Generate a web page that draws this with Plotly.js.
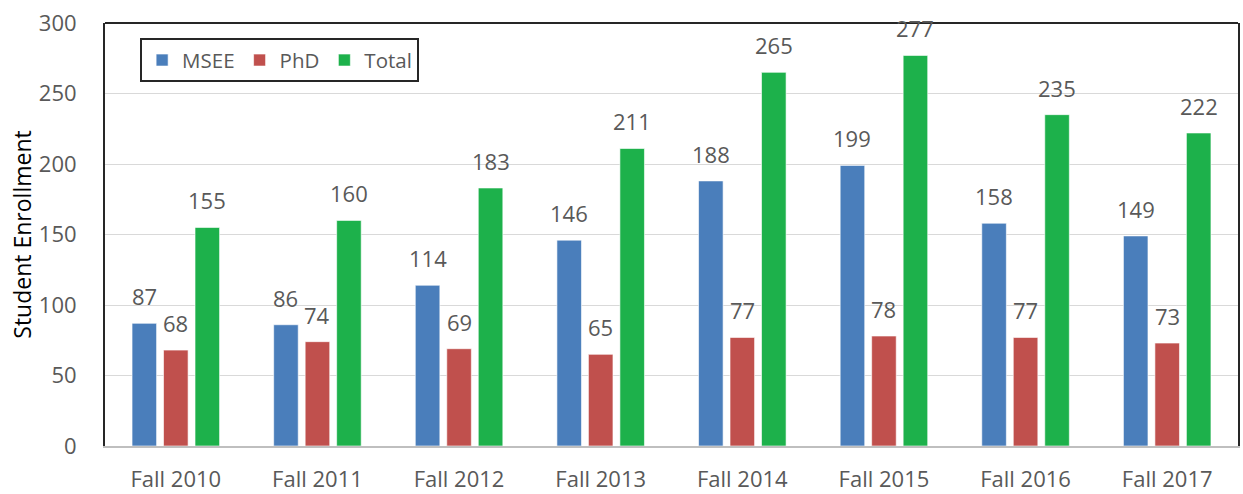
<!DOCTYPE html>
<html>
<head>
<meta charset="utf-8">
<script src="https://cdn.plot.ly/plotly-3.0.1.min.js"></script>
<style>html,body{margin:0;padding:0;background:#fff;}#chart{width:1243px;height:494px;}</style>
</head>
<body>
<div id="chart"></div>
<script>
const categories = ["Fall 2010","Fall 2011","Fall 2012","Fall 2013","Fall 2014","Fall 2015","Fall 2016","Fall 2017"];
const msee = [87, 86, 114, 146, 188, 199, 158, 149];
const phd = [68, 74, 69, 65, 77, 78, 77, 73];
const total = [155, 160, 183, 211, 265, 277, 235, 222];
const seriesNames = ["MSEE", "PhD", "Total"];
const seriesColors = ["#4a7ebb", "#c0504d", "#1db14b"];
const yTicks = [0, 50, 100, 150, 200, 250, 300];

const FONT = "Open Sans, Liberation Sans, sans-serif";
const FS = 22;
const BARGAP = 0.333;
const BARGROUPGAP = 0.22;
const seriesData = [msee, phd, total];

const traces = seriesData.map((vals, i) => ({
  type: "bar",
  name: seriesNames[i],
  x: categories,
  y: vals,
  marker: {color: seriesColors[i], line: {color: "rgba(255,255,255,0.6)", width: 1}},
  hoverinfo: "skip"
}));

const slot = (1 - BARGAP) / 3;
const annotations = [];
seriesData.forEach((vals, i) => {
  vals.forEach((v, j) => {
    annotations.push({
      x: j + (i - 1) * slot,
      y: v,
      xref: "x", yref: "y",
      text: String(v),
      showarrow: false,
      yanchor: "bottom",
      yshift: 10,
      font: {family: FONT, size: FS, color: "#595959"}
    });
  });
});

const layout = {
  width: 1243, height: 494,
  margin: {l: 105, r: 5, t: 23, b: 48},
  paper_bgcolor: "#fff", plot_bgcolor: "#fff",
  barmode: "group",
  bargap: BARGAP,
  bargroupgap: BARGROUPGAP,
  font: {family: FONT, size: FS, color: "#595959"},
  showlegend: true,
  legend: {
    orientation: "h",
    x: 0.031, y: 0.964, xanchor: "left", yanchor: "top",
    bordercolor: "#262626", borderwidth: 2,
    bgcolor: "#fff",
    font: {family: FONT, size: 20.5, color: "#595959"},
    itemwidth: 30,
    tracegroupgap: 0,
    traceorder: "normal"
  },
  xaxis: {
    type: "category",
    showgrid: false,
    showline: true, linecolor: "#bfbfbf", linewidth: 2,
    ticks: "",
    ticklabelstandoff: 13,
    tickfont: {family: FONT, size: FS, color: "#595959"},
    zeroline: false,
    fixedrange: true
  },
  yaxis: {
    range: [0, 300],
    tickvals: yTicks,
    ticktext: yTicks.map(String),
    showgrid: true, gridcolor: "#d9d9d9", gridwidth: 1,
    showline: true, linecolor: "#262626", linewidth: 2, mirror: true,
    zeroline: false,
    ticks: "",
    ticklabelstandoff: 22,
    tickfont: {family: FONT, size: FS, color: "#595959"},
    title: {text: "Student Enrollment", font: {family: FONT, size: 23, color: "#000"}, standoff: 1},
    fixedrange: true
  },
  shapes: [{
    type: "line", xref: "paper", yref: "paper",
    x0: 0, x1: 1, y0: 1, y1: 1,
    line: {color: "#262626", width: 2},
    layer: "above"
  }],
  annotations: annotations
};

Plotly.newPlot("chart", traces, layout, {displayModeBar: false, staticPlot: true});
</script>
</body>
</html>
